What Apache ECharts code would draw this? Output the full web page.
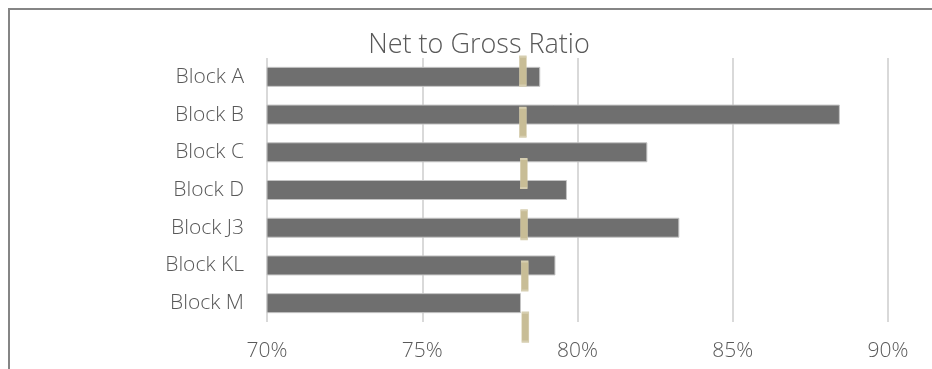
<!DOCTYPE html>
<html>
<head>
<meta charset="utf-8">
<script src="https://cdn.jsdelivr.net/npm/echarts@6/dist/echarts.min.js"></script>
<style>
html,body{margin:0;padding:0;background:#fff;}
#c{width:932px;height:369px;}
</style>
</head>
<body>
<div id="c"></div>
<script>
const categories = ['Block A','Block B','Block C','Block D','Block J3','Block KL','Block M'];
const actualValues = [0.788, 0.8845, 0.8225, 0.7966, 0.8328, 0.7929, 0.7818];
const targetValues = [0.7824, 0.7824, 0.7827, 0.7828, 0.7830, 0.7832];
const targetRows = [4.9, 3.9, 2.9, 1.9, 0.9, -0.1];
const xTicks = [0.70, 0.75, 0.80, 0.85, 0.90];

const FONT = '"Open Sans", sans-serif';
const chart = echarts.init(document.getElementById('c'), null, {renderer:'canvas'});
chart.setOption({
  animation: false,
  backgroundColor: '#fff',
  title: {
    text: 'Net to Gross Ratio',
    left: 474, top: 27, textAlign: 'center',
    textStyle: {fontFamily: FONT, fontWeight: 300, fontSize: 27, color: '#595959'}
  },
  graphic: [{
    type: 'rect', shape: {x: 9, y: 9, width: 1000, height: 1000},
    style: {fill: 'none', stroke: '#858585', lineWidth: 2}, z: 100, silent: true
  }],
  grid: {left: 267, right: 44, top: 58, bottom: 47},
  xAxis: {
    type: 'value', min: xTicks[0], max: xTicks[xTicks.length-1], interval: 0.05,
    axisLine: {show: false}, axisTick: {show: false},
    splitLine: {show: true, lineStyle: {color: '#d9d9d9', width: 2}},
    axisLabel: {
      margin: 19, fontFamily: FONT, fontWeight: 300, fontSize: 21, color: '#595959',
      formatter: v => Math.round(v*100) + '%'
    }
  },
  yAxis: [{
    type: 'category', data: categories, inverse: true,
    axisLine: {show: false}, axisTick: {show: false},
    axisLabel: {margin: 23, fontFamily: FONT, fontWeight: 300, fontSize: 21, color: '#595959'}
  }, {
    type: 'value', min: 0, max: 5.156, show: false
  }],
  series: [{
    type: 'bar', data: actualValues, barWidth: 20,
    itemStyle: {color: '#6f6f6f', borderColor: '#c4c4c4', borderWidth: 1},
    z: 2
  }, {
    type: 'scatter', yAxisIndex: 1,
    data: targetValues.map((v, i) => [v, targetRows[i]]),
    symbol: 'rect', symbolSize: [7, 29], clip: false,
    itemStyle: {color: '#c8bd96', borderColor: '#d6ceb0', borderWidth: 1, opacity: 1},
    z: 3
  }]
});
</script>
</body>
</html>
